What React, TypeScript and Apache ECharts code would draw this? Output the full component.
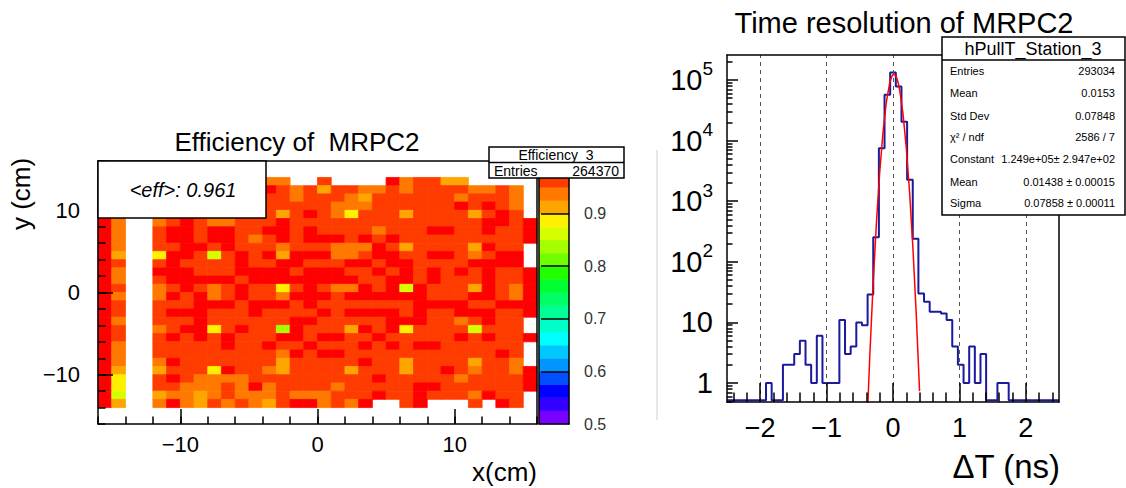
import React, { useEffect, useRef } from 'react';
import * as echarts from 'echarts';

const _ = null;
const FONT = "'Liberation Sans', Arial, Helvetica, sans-serif";

// ---------------- Left pad: efficiency map ----------------
const effTitle = 'Efficiency of  MRPC2';
const effXRange = [-16, 16];
const effYRange = [-16, 16];
const effMajorTicks = [-10, 0, 10];
const effFirstColumn = -16; // left edge of first column (cm)
const effTopEdge = 14; // top edge of first row (cm)
// one row per 1 cm, from y = 14..13 (top) down to y = -13..-14; columns x = -16 .. 15
const effRows: (number | null)[][] = [
  [.99,.94,_,_,.96,.99,.96,.96,.99,.96,.96,.99,.94,.94,_,_, .96,_,_,_,_,.99,.94,.96,.96,.91,.91,_,_,_,_,_],
  [.99,.94,_,_,.96,.96,.99,.96,.96,.99,.96,.96,.99,.96,.94,.96, .91,.96,.96,.94,.94,.96,.94,.96,.96,.96,.96,.94,.94,.96,.94,_],
  [.99,.94,_,_,.96,.99,.96,.96,.96,.99,.96,.96,.96,.96,.94,.96, .96,.96,.94,.91,.96,.96,.96,.96,.96,.96,.94,.96,.96,.96,.94,_],
  [.99,.94,_,_,.99,.96,.96,.99,.96,.96,.99,.96,.96,.96,.96,.96, .96,.94,.94,.94,.96,.96,.96,.96,.96,.96,.99,.96,.99,.96,.94,_],
  [.99,.94,_,_,.96,.99,.99,.96,.96,.96,.96,.96,.96,.91,.96,.99, .96,.94,.89,.96,.96,.96,.91,.96,.96,.96,.96,.91,.96,.99,.96,_],
  [.99,.94,_,_,.94,.96,.99,.96,.94,.94,.96,.96,.96,.99,.96,.96, .96,.96,.96,.96,.96,.96,.96,.96,.96,.96,.96,.96,.99,.99,.96,.99],
  [.99,.94,_,_,.96,.99,.99,.96,.99,.99,.96,.96,.99,.99,.96,.99, .96,.96,.96,.96,.94,.96,.96,.96,.99,.99,.96,.96,.99,.96,.96,.99],
  [.99,.94,_,_,.96,.99,.99,.96,.99,.99,.96,.94,.96,.99,.96,.99, .99,.99,.96,.99,.96,.99,.96,.96,.96,.96,.96,.96,.96,.96,.96,.99],
  [.99,.94,_,_,.96,.96,.99,.99,.96,.99,.96,.96,.96,.94,.96,.96, .96,.94,.94,.94,.99,.96,.91,.96,.96,.96,.96,.91,.99,.96,.96,_],
  [.99,.91,_,_,.89,.99,.99,.96,.86,.96,.99,.96,.99,.91,.99,.99, .99,.94,.94,.96,.99,.99,.96,.96,.99,.99,.96,.94,.96,.99,.99,_],
  [.99,.96,_,_,.96,.99,.96,.96,.96,.96,.99,.96,.96,.99,.99,.96, .96,.96,.99,.99,.96,.99,.99,.96,.96,.96,.96,.99,.99,.99,.99,_],
  [.99,.94,_,_,.99,.99,.99,.96,.96,.96,.99,.99,.99,.99,.96,.99, .99,.99,.96,.96,.99,.96,.99,.96,.99,.96,.99,.96,.99,.96,.96,.99],
  [.99,.94,_,_,.96,.99,.99,.99,.99,.99,.96,.99,.99,.99,.99,.99, .99,.99,.99,.96,.96,.99,.99,.96,.99,.96,.96,.96,.99,.96,.96,.99],
  [.99,.96,_,_,.94,.96,.99,.96,.94,.96,.99,.96,.96,.89,.96,.99, .96,.94,.94,.99,.96,.99,.86,.99,.96,.96,.96,.91,.99,.96,.94,.99],
  [.99,.94,_,_,.94,.99,.96,.99,.94,.96,.99,.96,.96,.94,.99,.99, .99,.96,.99,.99,.99,.99,.99,.99,.96,.96,.96,.99,.99,.96,.94,.99],
  [.99,.96,_,_,.96,.96,.96,.99,.99,.99,.96,.99,.99,.99,.96,.99, .96,.96,.96,.96,.96,.96,.96,.99,.99,.99,.99,.96,.96,.99,.99,.99],
  [.99,.96,_,_,.96,.99,.99,.99,.96,.96,.96,.99,.96,.96,.96,.96, .99,.96,.99,.99,.99,.99,.96,.99,.96,.96,.99,.99,.99,.96,.96,.99],
  [.99,.94,_,_,.96,.96,.96,.99,.96,.96,.96,.96,.96,.96,.99,.99, .96,.96,.96,.96,.96,.99,.99,.99,.96,.96,.94,.96,.99,.96,.96,_],
  [.99,.96,_,_,.94,.96,.99,.99,.89,.96,.99,.96,.96,.84,.99,.96, .96,.96,.91,.99,.96,.99,.89,.96,.96,.96,.96,.86,.96,.96,.96,_],
  [.99,.96,_,_,.96,.99,.96,.99,.96,.99,.96,.96,.96,.99,.99,.96, .99,.99,.96,.96,.99,.96,.96,.96,.96,.96,.99,.96,.99,.96,.96,.99],
  [.99,.94,_,_,.96,.96,.96,.96,.96,.99,.96,.96,.99,.96,.96,.99, .96,.96,.96,.99,.96,.99,.96,.99,.99,.96,.96,.96,.96,.96,.96,_],
  [.99,.94,_,_,.96,.96,.96,.96,.96,.96,.96,.96,.96,.94,.99,.96, .99,.99,.96,.96,.96,.96,.96,.96,.96,.96,.96,.96,.96,.99,.96,_],
  [.99,.94,_,_,.94,.99,.96,.96,.96,.96,.96,.96,.96,.91,.96,.96, .96,.96,.96,.99,.96,.96,.91,.96,.96,.96,.96,.91,.96,.96,.94,_],
  [.99,.91,_,_,.91,.96,.96,.96,.89,.99,.96,.96,.94,.91,.96,.96, .96,.96,.91,.96,.96,.96,.91,.96,.96,.99,.96,.94,.96,.96,.94,.99],
  [.99,.89,_,_,.96,.99,.96,.94,.94,.94,.94,.96,.96,.96,.96,.96, .96,.96,.96,.96,.99,.96,.96,.96,.96,.96,.94,.96,.96,.96,.96,.99],
  [.99,.89,_,_,.96,.96,.94,.94,.94,.96,.94,.99,.94,.96,.96,.96, .96,.94,.96,.96,.96,.96,.96,.99,.99,.96,.96,.96,.96,.96,.96,.99],
  [.99,.86,_,_,.91,.94,.94,.91,.94,.96,.94,.94,.94,.96,.94,.94, .94,.96,.96,.96,.99,.96,.96,.99,.96,.96,.96,.94,.99,.96,.96,_],
  [.99,.91,_,_,.94,.99,.94,.91,.96,.94,.96,.94,.91,.96,.99,.99, .94,.96,.94,.99,_,_,.96,.99,_,_,_,.96,_,.99,.96,_],
];
const effMeanText = '<eff>: 0.961';
const effStatName = 'Efficiency_3';
const effStatEntries = '264370';
const paletteLevels = [0.5, 0.525, 0.55, 0.575, 0.6, 0.625, 0.65, 0.675, 0.7, 0.725, 0.75,
  0.775, 0.8, 0.825, 0.85, 0.875, 0.9, 0.925, 0.95, 0.975, 1.0];
const paletteColors = ['#7a00ff', '#3300ff', '#0000ff', '#0050ff', '#0095ff', '#00c8ff', '#00ffff',
  '#00ffc8', '#00ff96', '#00ff64', '#00ff30', '#22ff00', '#70ff00', '#a5ff00', '#d5ff00', '#fff000',
  '#ffa500', '#ff7800', '#ff3c00', '#ff0000'];
const paletteLabels = [0.5, 0.6, 0.7, 0.8, 0.9];
const paletteTicks = [0.6, 0.7, 0.8, 0.9];

// ---------------- Right pad: time residuals ----------------
const histTitle = 'Time resolution of MRPC2';
const histXRange = [-2.5, 2.5];
const histYRange = [0.486, 258500];
const histBinWidth = 0.085;
const histFirstCenter = -2.465;
const histCounts = [
  0, 0, 0, 0, 0, 0, 0, // -2.465 .. -1.955
  1, 0, 0, 2, 2, 3, 5, 2, 1, 6, // -1.87 .. -1.105
  1, 1, 1, 11, 3, 4, 10, 9, 29, 255, // -1.02 .. -0.255
  7500, 57000, 133000, 78000, 20500, 2250, 240, // -0.17 .. 0.34
  30, 22, 15, 15, 14, 11, 4, 2, 1, 4, 1, 3, 0, 0, 1, 1, // 0.425 .. 1.7
  0, 0, 0, 0, 0, 0, 0, 0, 0, // 1.785 .. 2.465
];
const fitX = [-0.40, -0.35, -0.30, -0.25, -0.20, -0.15, -0.10, -0.05, -0.025, 0.00, 0.025, 0.05, 0.075,
  0.10, 0.15, 0.20, 0.25, 0.30, 0.35, 0.40];
const fitY = [0.114, 2.68, 41.8, 435, 3022, 14000, 43300, 89300, 110100, 122800, 123760, 112700, 92760,
  69000, 28200, 7670, 1394, 169, 13.7, 0.735];
const histXTicks = [-2, -1, 0, 1, 2];
const histXMinorTicks = [-2.4, -2.2, -1.8, -1.6, -1.4, -1.2, -0.8, -0.6, -0.4, -0.2,
  0.2, 0.4, 0.6, 0.8, 1.2, 1.4, 1.6, 1.8, 2.2, 2.4];
const histYTicks = [1, 10, 100, 1000, 10000, 100000];
const histYMinorTicks = [0.5, 0.6, 0.7, 0.8, 0.9, 2, 3, 4, 5, 6, 7, 8, 9, 20, 30, 40, 50, 60, 70, 80, 90,
  200, 300, 400, 500, 600, 700, 800, 900, 2000, 3000, 4000, 5000, 6000, 7000, 8000, 9000,
  20000, 30000, 40000, 50000, 60000, 70000, 80000, 90000, 200000];
const histZeroLevel = 0.52;
const histStatName = 'hPullT_Station_3';
const histStatLabels = ['Entries', 'Mean', 'Std Dev', 'χ² / ndf', 'Constant', 'Mean', 'Sigma'];
const histStatValues = ['293034', '0.0153', '0.07848', '2586 / 7', '1.249e+05± 2.947e+02',
  '0.01438 ± 0.00015', '0.07858 ± 0.00011'];

const minusFmt = (v: number) => (v < 0 ? '\u2212' + String(-v) : String(v));

function paletteColor(v: number) {
  for (let i = 0; i < paletteColors.length; i++) {
    if (v >= paletteLevels[i] && v < paletteLevels[i + 1]) return paletteColors[i];
  }
  return v >= 1 ? paletteColors[paletteColors.length - 1] : paletteColors[0];
}

function buildOption() {
  const black = '#000';
  const tickLine = { color: black, width: 1.5 };
  const frameLine = { show: true, onZero: false, lineStyle: { color: black, width: 1.5 } };
  const noAxisLine = { show: false, onZero: false };

  const effData: number[][] = [];
  effRows.forEach((row, r) => {
    row.forEach((v, c) => {
      if (v !== null) effData.push([effFirstColumn + c, effTopEdge - 1 - r, v]);
    });
  });

  const bandData = paletteColors.map((col, i) => [paletteLevels[i], paletteLevels[i + 1]]);

  const lvl = (c: number) => (c > 0 ? c : histZeroLevel);
  const histLine: number[][] = [[histXRange[0], lvl(histCounts[0])]];
  histCounts.forEach((c, i) => {
    histLine.push([+(histFirstCenter + i * histBinWidth).toFixed(4), lvl(c)]);
  });
  histLine.push([histXRange[1], lvl(histCounts[histCounts.length - 1])]);

  const fitLine = fitX.map((x, i) => [x, fitY[i]]);

  const frameX = (gridIndex: number, position: string) => ({
    gridIndex, type: 'value', position, min: 0, max: 1, axisLine: frameLine,
    axisTick: { show: false }, axisLabel: { show: false }, splitLine: { show: false }, z: 5,
  });

  const graphic: any[] = [];
  const txt = (x: number, y: number, text: string, size: number, align: string, extra: any = {}, fontStyle = 'normal') => ({
    type: 'text', x, y, z: 100, ...extra,
    style: {
      text, fill: '#000', fontSize: size, fontFamily: FONT, fontStyle,
      textAlign: align, textVerticalAlign: 'middle', align, verticalAlign: 'middle',
    },
  });
  const rect = (x: number, y: number, w: number, h: number, lw = 1.5) => ({
    type: 'rect', z: 99, shape: { x, y, width: w, height: h },
    style: { fill: '#fff', stroke: '#000', lineWidth: lw },
  });
  const hline = (x1: number, x2: number, y: number, lw = 1.5, color = '#000') => ({
    type: 'line', z: 100, shape: { x1, y1: y, x2, y2: y }, style: { stroke: color, lineWidth: lw },
  });

  // pad separator
  graphic.push({ type: 'line', z: 100, shape: { x1: 657, y1: 150, x2: 657, y2: 420 },
    style: { stroke: '#cfcfcf', lineWidth: 1 } });
  // titles & axis titles
  graphic.push(txt(297, 142, effTitle, 26, 'center'));
  graphic.push(txt(904, 23, histTitle, 29, 'center'));
  graphic.push(txt(21, 194, 'y (cm)', 26, 'center', { rotation: Math.PI / 2 }));
  graphic.push(txt(537, 472, 'x(cm)', 26, 'right'));
  graphic.push(txt(1060, 466, 'ΔT (ns)', 33, 'right'));
  // <eff> box
  graphic.push(rect(98, 161, 168, 57));
  graphic.push(txt(183, 190, effMeanText, 20, 'center', {}, 'italic'));
  // efficiency stat box
  graphic.push(rect(489, 147, 135, 31));
  graphic.push(hline(489, 624, 162.5));
  graphic.push(txt(556, 155, effStatName, 14, 'center'));
  graphic.push(txt(494, 170.5, 'Entries', 14, 'left'));
  graphic.push(txt(619, 170.5, effStatEntries, 14, 'right'));
  // histogram stat box
  graphic.push(rect(942, 37, 183, 178));
  graphic.push(hline(942, 1125, 60));
  graphic.push(txt(1033, 49, histStatName, 18, 'center'));
  const rowY = [71, 93, 116, 137, 159, 182, 203];
  histStatLabels.forEach((l, i) => {
    graphic.push(txt(950, rowY[i], l, 11, 'left'));
    graphic.push(txt(1115, rowY[i], histStatValues[i], 11, 'right'));
  });

  return {
    animation: false,
    backgroundColor: '#fff',
    textStyle: { fontFamily: FONT },
    grid: [
      { left: 98, top: 161, width: 439, height: 263, outerBoundsMode: 'none' },
      { left: 539, top: 161, width: 30, height: 263, outerBoundsMode: 'none' },
      { left: 727, top: 55, width: 332, height: 347, outerBoundsMode: 'none' },
    ],
    xAxis: [
      { gridIndex: 0, type: 'value', position: 'bottom', min: effXRange[0], max: effXRange[1],
        axisLine: frameLine,
        axisTick: { inside: true, length: 15, customValues: effMajorTicks, lineStyle: tickLine },
        axisLabel: { customValues: effMajorTicks, formatter: minusFmt, fontSize: 22, color: black, margin: 9 },
        splitLine: { show: false }, z: 5 },
      { gridIndex: 0, type: 'value', position: 'bottom', min: effXRange[0], max: effXRange[1], interval: 2,
        axisLine: noAxisLine, axisTick: { inside: true, length: 7.5, lineStyle: tickLine },
        axisLabel: { show: false }, splitLine: { show: false }, z: 5 },
      frameX(0, 'top'),
      frameX(1, 'bottom'),
      frameX(1, 'top'),
      { gridIndex: 2, type: 'value', position: 'bottom', min: histXRange[0], max: histXRange[1],
        axisLine: frameLine,
        axisTick: { inside: true, length: 19, customValues: histXTicks, lineStyle: tickLine },
        axisLabel: { customValues: histXTicks, formatter: minusFmt, fontSize: 27, color: black, margin: 12 },
        splitLine: { show: false }, z: 5 },
      { gridIndex: 2, type: 'value', position: 'bottom', min: histXRange[0], max: histXRange[1],
        axisLine: noAxisLine,
        axisTick: { inside: true, length: 9.5, customValues: histXMinorTicks, lineStyle: tickLine },
        axisLabel: { show: false }, splitLine: { show: false }, z: 5 },
      frameX(2, 'top'),
    ],
    yAxis: [
      { gridIndex: 0, type: 'value', position: 'left', min: effYRange[0], max: effYRange[1],
        axisLine: frameLine,
        axisTick: { inside: true, length: 15, customValues: effMajorTicks, lineStyle: tickLine },
        axisLabel: { customValues: effMajorTicks, formatter: minusFmt, fontSize: 22, color: black, margin: 18 },
        splitLine: { show: false }, z: 5 },
      { gridIndex: 0, type: 'value', position: 'left', min: effYRange[0], max: effYRange[1], interval: 2,
        axisLine: noAxisLine, axisTick: { inside: true, length: 7.5, lineStyle: tickLine },
        axisLabel: { show: false }, splitLine: { show: false }, z: 5 },
      frameX(0, 'right'),
      { gridIndex: 1, type: 'value', position: 'right', min: paletteLevels[0], max: paletteLevels[paletteLevels.length - 1],
        axisLine: frameLine,
        axisTick: { inside: true, length: 28, customValues: paletteTicks, lineStyle: tickLine },
        axisLabel: { customValues: paletteLabels, formatter: (v: number) => v.toFixed(1), fontSize: 16, color: '#333', margin: 15 },
        splitLine: { show: false }, z: 5 },
      frameX(1, 'left'),
      { gridIndex: 2, type: 'log', logBase: 10, position: 'left', min: histYRange[0], max: histYRange[1],
        axisLine: frameLine,
        axisTick: { inside: true, length: 11, customValues: histYTicks, lineStyle: tickLine },
        axisLabel: {
          customValues: histYTicks, fontSize: 29, color: black, margin: 14,
          formatter: (v: number) => {
            const e = Math.round(Math.log10(v));
            if (e === 0) return '1';
            if (e === 1) return '10';
            return '{b|10}{s|' + e + '}';
          },
          rich: {
            b: { fontSize: 29, fontFamily: FONT, color: black, verticalAlign: 'middle' },
            s: { fontSize: 19, fontFamily: FONT, color: black, verticalAlign: 'middle', padding: [0, 0, 22, 0] },
          },
        },
        splitLine: { show: false }, z: 5 },
      { gridIndex: 2, type: 'log', logBase: 10, position: 'left', min: histYRange[0], max: histYRange[1],
        axisLine: noAxisLine,
        axisTick: { inside: true, length: 5.5, customValues: histYMinorTicks, lineStyle: tickLine },
        axisLabel: { show: false }, splitLine: { show: false }, z: 5 },
      frameX(2, 'right'),
    ],
    series: [
      {
        type: 'custom', name: 'efficiency', xAxisIndex: 0, yAxisIndex: 0, data: effData, z: 2,
        encode: { x: 0, y: 1 },
        renderItem: (params: any, api: any) => {
          const x0 = api.value(0);
          const y0 = api.value(1);
          const v = api.value(2);
          const a = api.coord([x0, y0 + 1]);
          const b = api.coord([x0 + 1, y0]);
          const fill = paletteColor(v);
          return {
            type: 'rect',
            shape: { x: a[0], y: a[1], width: b[0] - a[0], height: b[1] - a[1] },
            style: { fill, stroke: fill, lineWidth: 0.8 },
          };
        },
      },
      {
        type: 'custom', name: 'palette', xAxisIndex: 3, yAxisIndex: 3, data: bandData, z: 2,
        encode: { y: [0, 1] },
        renderItem: (params: any, api: any) => {
          const lo = api.value(0);
          const hi = api.value(1);
          const a = api.coord([0, hi]);
          const b = api.coord([1, lo]);
          const fill = paletteColors[params.dataIndex];
          return {
            type: 'rect',
            shape: { x: a[0], y: a[1], width: b[0] - a[0], height: b[1] - a[1] },
            style: { fill, stroke: fill, lineWidth: 0.6 },
          };
        },
      },
      {
        type: 'line', name: 'grid', xAxisIndex: 5, yAxisIndex: 5, data: [], z: 1,
        markLine: {
          silent: true, symbol: ['none', 'none'], label: { show: false },
          lineStyle: { color: '#555', type: [4, 4], width: 1 },
          data: histXTicks.map((v) => ({ xAxis: v })),
        },
      },
      {
        type: 'line', name: 'hPullT_Station_3', xAxisIndex: 5, yAxisIndex: 5, data: histLine,
        step: 'middle', symbol: 'none', clip: true, z: 3,
        lineStyle: { color: '#1a1a9c', width: 2 },
      },
      {
        type: 'line', name: 'gaus', xAxisIndex: 5, yAxisIndex: 5, data: fitLine,
        symbol: 'none', clip: true, z: 4,
        lineStyle: { color: '#ff0000', width: 1.5 },
      },
    ],
    graphic,
  };
}

export default function App() {
  const ref = useRef<HTMLDivElement>(null);
  useEffect(() => {
    if (!ref.current) return;
    const chart = echarts.init(ref.current, undefined, { renderer: 'svg' });
    chart.setOption(buildOption() as any);
    return () => chart.dispose();
  }, []);
  return (
    <div
      ref={ref}
      style={{ position: 'fixed', left: 0, top: 0, width: 1126, height: 488, background: '#fff' }}
    />
  );
}
